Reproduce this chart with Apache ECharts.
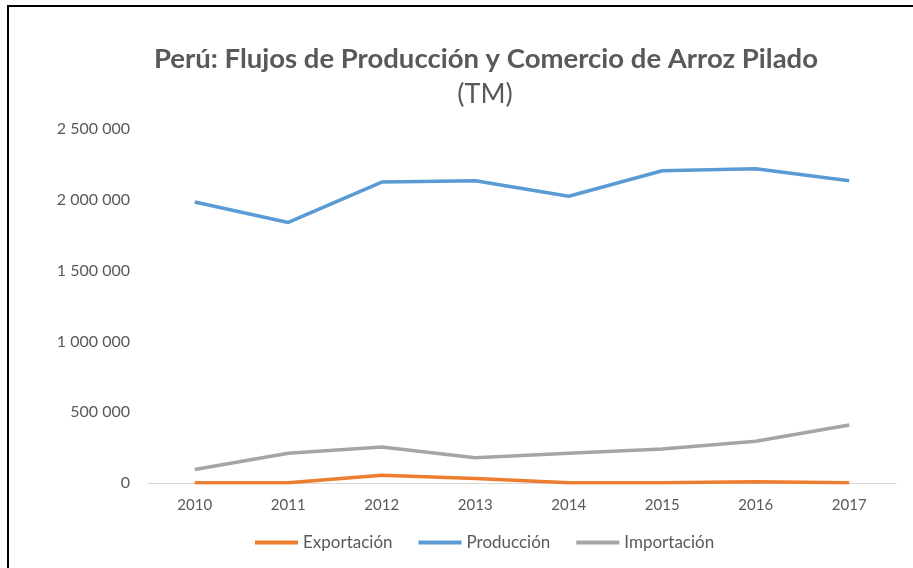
<!DOCTYPE html>
<html>
<head>
<meta charset="utf-8">
<style>
    html, body { margin: 0; padding: 0; background: #fff; }
    #main { width: 913px; height: 568px; }
</style>
<script src="https://cdn.jsdelivr.net/npm/echarts@6/dist/echarts.min.js"></script>
</head>
<body>
<div id="main"></div>
<script>
// años
var years = ['2010', '2011', '2012', '2013', '2014', '2015', '2016', '2017'];
// series (TM)
var exportacion = [1500, 2000, 55000, 32000, 1000, 1500, 9000, 2000];
var produccion = [1985000, 1840000, 2125000, 2135000, 2025000, 2205000, 2220000, 2135000];
var importacion = [95000, 210000, 255000, 178000, 210000, 240000, 295000, 410000];
var seriesNames = ['Exportación', 'Producción', 'Importación'];

function fmtMiles(v) {
    return String(v).replace(/\B(?=(\d{3})+(?!\d))/g, ' ');
}

var myChart = echarts.init(document.getElementById('main'));
var txtColor = '#595959';
var fontFam = 'Lato, "Open Sans", sans-serif';

var option = {
    backgroundColor: '#fff',
    animation: false,
    title: [
        {
            text: 'Perú: Flujos de Producción y Comercio de Arroz Pilado',
            left: 481,
            top: 40,
            textAlign: 'center',
            textStyle: { fontFamily: fontFam, fontSize: 27.5, fontWeight: 'bold', color: txtColor }
        },
        {
            text: '(TM)',
            left: 480,
            top: 76,
            textAlign: 'center',
            textStyle: { fontFamily: fontFam, fontSize: 27, fontWeight: 'normal', color: txtColor }
        }
    ],
    legend: {
        data: seriesNames,
        bottom: 12,
        left: 250,
        icon: 'rect',
        itemWidth: 43,
        itemHeight: 4,
        itemGap: 26,
        textStyle: { fontFamily: fontFam, fontSize: 17, color: txtColor }
    },
    grid: {
        left: 148,
        right: 17,
        top: 129,
        bottom: 85
    },
    xAxis: {
        type: 'category',
        data: years,
        boundaryGap: true,
        axisLine: { lineStyle: { color: '#d9d9d9', width: 1 } },
        axisTick: { show: false },
        axisLabel: { fontFamily: fontFam, fontSize: 15, color: txtColor, margin: 15 }
    },
    yAxis: {
        type: 'value',
        min: 0,
        max: 2500000,
        interval: 500000,
        splitLine: { show: false },
        axisLine: { show: false },
        axisTick: { show: false },
        axisLabel: { fontFamily: fontFam, fontSize: 16, color: txtColor, margin: 18, formatter: fmtMiles }
    },
    graphic: [
        { type: 'line', shape: { x1: 8, y1: 5, x2: 8, y2: 568 }, style: { stroke: '#000', lineWidth: 2 } },
        { type: 'line', shape: { x1: 8, y1: 6, x2: 913, y2: 6 }, style: { stroke: '#000', lineWidth: 2 } }
    ],
    series: [
        {
            name: seriesNames[0], type: 'line', data: exportacion, symbol: 'none',
            lineStyle: { color: '#ED7D31', width: 3.5 }, itemStyle: { color: '#ED7D31' }
        },
        {
            name: seriesNames[1], type: 'line', data: produccion, symbol: 'none',
            lineStyle: { color: '#5B9BD5', width: 3.5 }, itemStyle: { color: '#5B9BD5' }
        },
        {
            name: seriesNames[2], type: 'line', data: importacion, symbol: 'none',
            lineStyle: { color: '#A5A5A5', width: 3.5 }, itemStyle: { color: '#A5A5A5' }
        }
    ]
};

myChart.setOption(option);
</script>
</body>
</html>
